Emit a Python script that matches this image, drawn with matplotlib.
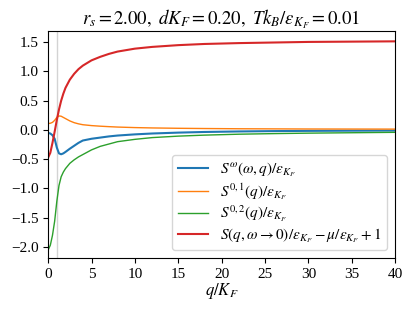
import matplotlib
matplotlib.use("Agg")
import matplotlib.pyplot as plt

q = [0, 0.25, 0.5, 0.75, 1.0, 1.25, 1.5, 1.75, 2, 2.5, 3, 3.5, 4, 5, 6, 7, 8, 10, 12, 15, 18, 22, 26, 30, 35, 40]

s_omega = [-0.05, -0.06, -0.09, -0.15, -0.30, -0.40, -0.415, -0.40, -0.375, -0.32, -0.27, -0.22, -0.18,
           -0.15, -0.13, -0.11, -0.095, -0.075, -0.06, -0.045, -0.034, -0.025, -0.019, -0.015, -0.012, -0.01]
s_01 = [0.11, 0.115, 0.13, 0.165, 0.215, 0.24, 0.235, 0.215, 0.195, 0.155, 0.125, 0.105, 0.09,
        0.075, 0.065, 0.057, 0.05, 0.041, 0.035, 0.029, 0.025, 0.021, 0.019, 0.017, 0.016, 0.015]
s_02 = [-2.05, -1.97, -1.80, -1.56, -1.22, -0.95, -0.80, -0.72, -0.66, -0.57, -0.51, -0.46, -0.42,
        -0.34, -0.28, -0.24, -0.20, -0.16, -0.13, -0.105, -0.088, -0.072, -0.062, -0.054, -0.047, -0.04]
s_static = [-0.47, -0.39, -0.22, -0.03, 0.17, 0.35, 0.50, 0.62, 0.72, 0.86, 0.96, 1.04, 1.10,
            1.19, 1.25, 1.30, 1.34, 1.39, 1.42, 1.45, 1.47, 1.485, 1.495, 1.505, 1.51, 1.515]

labels = [r"$S^{\omega}(\omega,q)/\varepsilon_{K_F}$",
          r"$S^{0,1}(q)/\varepsilon_{K_F}$",
          r"$S^{0,2}(q)/\varepsilon_{K_F}$",
          r"$S(q,\omega\to 0)/\varepsilon_{K_F}-\mu/\varepsilon_{K_F}+1$"]
q_fermi = 1.0

plt.rcParams['font.family'] = ['Liberation Serif', 'DejaVu Serif']
plt.rcParams['mathtext.fontset'] = 'stix'

fig = plt.figure(figsize=(4.15, 3.11), dpi=100)
ax = fig.add_axes([0.116, 0.170, 0.836, 0.730])
ax.axvline(q_fermi, color='lightgray', lw=1.0)
ax.plot(q, s_omega, color='#1f77b4', lw=1.5, label=labels[0])
ax.plot(q, s_01, color='#ff7f0e', lw=1.0, label=labels[1])
ax.plot(q, s_02, color='#2ca02c', lw=1.0, label=labels[2])
ax.plot(q, s_static, color='#d62728', lw=1.5, label=labels[3])
ax.set_xlim(0, 40)
ax.set_ylim(-2.19, 1.69)
ax.set_xticks([0, 5, 10, 15, 20, 25, 30, 35, 40])
ax.set_yticks([-2.0, -1.5, -1.0, -0.5, 0.0, 0.5, 1.0, 1.5])
ax.tick_params(labelsize=11)
ax.set_xlabel(r"$q/K_F$", fontsize=12, labelpad=0)
ax.set_title(r"$r_s=2.00,\ dK_F=0.20,\ Tk_B/\varepsilon_{K_F}=0.01$", fontsize=13.5, pad=4)
ax.legend(loc='lower right', fontsize=11, framealpha=0.8, labelspacing=0.15,
          borderpad=0.35, handlelength=2.0)
fig.savefig("out.png", dpi=100)
